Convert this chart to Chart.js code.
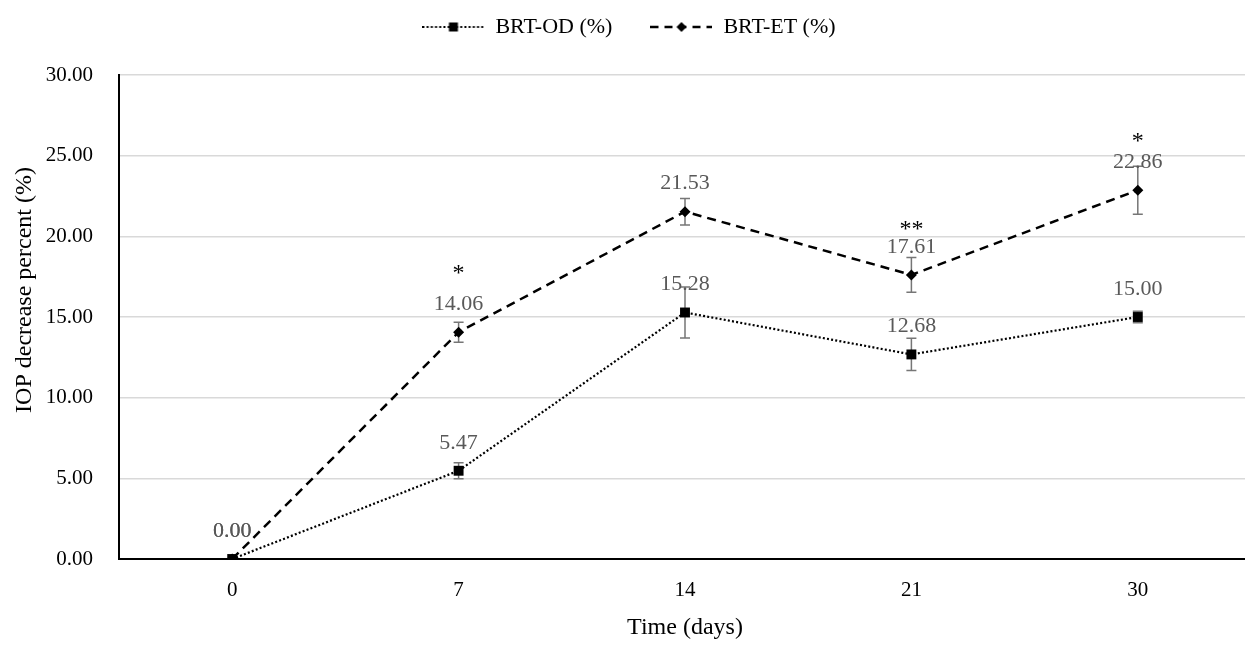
<!DOCTYPE html>
<html>
<head>
<meta charset="utf-8">
<script src="https://cdn.jsdelivr.net/npm/chart.js@4.4.1/dist/chart.umd.min.js"></script>
<style>
  html, body { margin: 0; padding: 0; overflow: hidden; background: #fff; }
  #wrap { width: 1258px; height: 646px; }
</style>
</head>
<body>
<div id="wrap"><canvas id="iop_chart"></canvas></div>
<script>
// データ
const days = ['0', '7', '14', '21', '30'];
const odValues = [0.00, 5.47, 15.28, 12.68, 15.00];
const etValues = [0.00, 14.06, 21.53, 17.61, 22.86];
const odErrors = [0, 0.50, 1.58, 1.00, 0.35];
const etErrors = [0, 0.62, 0.82, 1.08, 1.49];
// 有意差の印とその高さ(%)
const sigMarks = ['', '*', '', '**', '*'];
const sigLevels = [null, 18.1, null, 20.8, 26.3];

const FONT = "'Liberation Serif', 'Times New Roman', serif";

// 凡例用の線+マーカー画像
function legendSwatch(dash, lineWidth, drawMarker) {
    const c = document.createElement('canvas');
    c.width = 62;
    c.height = 14;
    const g = c.getContext('2d');
    g.strokeStyle = '#000';
    g.lineWidth = lineWidth;
    g.setLineDash(dash);
    g.beginPath();
    g.moveTo(0, 7);
    g.lineTo(62, 7);
    g.stroke();
    g.setLineDash([]);
    g.fillStyle = '#000';
    drawMarker(g, 31, 7);
    return c;
}
const swatches = [
    legendSwatch([2, 2.2], 2.2, (g, x, y) => g.fillRect(x - 4.5, y - 4.5, 9, 9)),
    legendSwatch([8, 6], 2.5, (g, x, y) => {
        g.beginPath();
        g.moveTo(x - 5, y); g.lineTo(x, y - 5); g.lineTo(x + 5, y); g.lineTo(x, y + 5);
        g.closePath();
        g.fill();
    })
];

// エラーバー
const errorBarPlugin = {
    id: 'errorBars',
    beforeDatasetsDraw(chart) {
        const ctx = chart.ctx;
        const yScale = chart.scales.y;
        ctx.save();
        ctx.strokeStyle = '#767676';
        ctx.lineWidth = 1.5;
        chart.data.datasets.forEach((ds, i) => {
            const meta = chart.getDatasetMeta(i);
            ds.errors.forEach((e, j) => {
                if (!e) return;
                const x = meta.data[j].x;
                const top = yScale.getPixelForValue(ds.data[j] + e);
                const bot = yScale.getPixelForValue(ds.data[j] - e);
                ctx.beginPath();
                ctx.moveTo(x, top); ctx.lineTo(x, bot);
                ctx.moveTo(x - 5, top); ctx.lineTo(x + 5, top);
                ctx.moveTo(x - 5, bot); ctx.lineTo(x + 5, bot);
                ctx.stroke();
            });
        });
        ctx.restore();
    }
};

// 数値ラベルと有意差の印
const labelPlugin = {
    id: 'valueLabels',
    afterDatasetsDraw(chart) {
        const ctx = chart.ctx;
        ctx.save();
        ctx.textAlign = 'center';
        ctx.textBaseline = 'middle';
        ctx.font = '22px ' + FONT;
        ctx.fillStyle = '#595959';
        chart.data.datasets.forEach((ds, i) => {
            const meta = chart.getDatasetMeta(i);
            ds.data.forEach((v, j) => {
                const pt = meta.data[j];
                ctx.fillText(v.toFixed(2), pt.x, pt.y - 28);
            });
        });
        ctx.fillStyle = '#000';
        ctx.textBaseline = 'alphabetic';
        ctx.font = '24px ' + FONT;
        sigMarks.forEach((m, j) => {
            if (!m) return;
            const x = chart.scales.x.getPixelForValue(j);
            const y = chart.scales.y.getPixelForValue(sigLevels[j]);
            ctx.fillText(m, x, y + 13);
        });
        ctx.restore();
    }
};

// 凡例の下に余白を入れる
const legendSpacePlugin = {
    id: 'legendSpace',
    beforeInit(chart) {
        const fit = chart.legend.fit;
        chart.legend.fit = function () {
            fit.bind(chart.legend)();
            this.height = 75;
        };
    }
};

const ctx = document.getElementById('iop_chart').getContext('2d');
new Chart(ctx, {
    type: 'line',
    data: {
        labels: days,
        datasets: [
            {
                label: 'BRT-OD (%)',
                data: odValues,
                errors: odErrors,
                borderColor: '#000',
                backgroundColor: '#000',
                borderWidth: 2.2,
                borderDash: [2, 2.2],
                borderCapStyle: 'butt',
                pointStyle: 'rect',
                pointRadius: 7,
                pointBackgroundColor: '#000',
                pointBorderWidth: 0,
                fill: false,
                tension: 0
            },
            {
                label: 'BRT-ET (%)',
                data: etValues,
                errors: etErrors,
                borderColor: '#000',
                backgroundColor: '#000',
                borderWidth: 2.5,
                borderDash: [9, 6],
                pointStyle: 'rectRot',
                pointRadius: 5.5,
                pointBackgroundColor: '#000',
                pointBorderWidth: 0,
                fill: false,
                tension: 0
            }
        ]
    },
    options: {
        responsive: true,
        maintainAspectRatio: false,
        animation: false,
        layout: { padding: 0 },
        plugins: {
            tooltip: { enabled: false },
            legend: {
                position: 'top',
                labels: {
                    usePointStyle: true,
                    pointStyleWidth: 62,
                    padding: 16,
                    color: '#000',
                    font: { family: FONT, size: 22 },
                    generateLabels(chart) {
                        const items = Chart.defaults.plugins.legend.labels.generateLabels(chart);
                        items.forEach((it, i) => {
                            it.pointStyle = swatches[i];
                            if (i === 0) it.text += '\u00a0\u00a0\u00a0\u00a0';
                        });
                        return items;
                    }
                }
            }
        },
        scales: {
            x: {
                type: 'category',
                offset: true,
                grid: { display: false, drawTicks: false },
                border: { display: true, color: '#000', width: 2 },
                ticks: { color: '#000', padding: 19, font: { family: FONT, size: 21 } },
                title: {
                    display: true,
                    text: 'Time (days)',
                    color: '#000',
                    font: { family: FONT, size: 24 },
                    padding: { top: 4, bottom: 4 }
                },
                afterFit(scale) { scale.height = 87; }
            },
            y: {
                min: 0,
                max: 30,
                ticks: {
                    stepSize: 5,
                    color: '#000',
                    padding: 26,
                    font: { family: FONT, size: 21 },
                    callback: (v) => Number(v).toFixed(2)
                },
                grid: { color: '#d9d9d9', lineWidth: 1.5, drawTicks: false },
                border: { display: true, color: '#000', width: 2 },
                title: {
                    display: true,
                    text: '\u00a0\u00a0\u00a0\u00a0\u00a0\u00a0\u00a0\u00a0\u00a0IOP decrease percent (%)',
                    color: '#000',
                    font: { family: FONT, size: 24 },
                    padding: { top: 10, bottom: 0 }
                },
                afterFit(scale) { scale.width = 119; }
            }
        }
    },
    plugins: [errorBarPlugin, labelPlugin, legendSpacePlugin]
});
</script>
</body>
</html>
